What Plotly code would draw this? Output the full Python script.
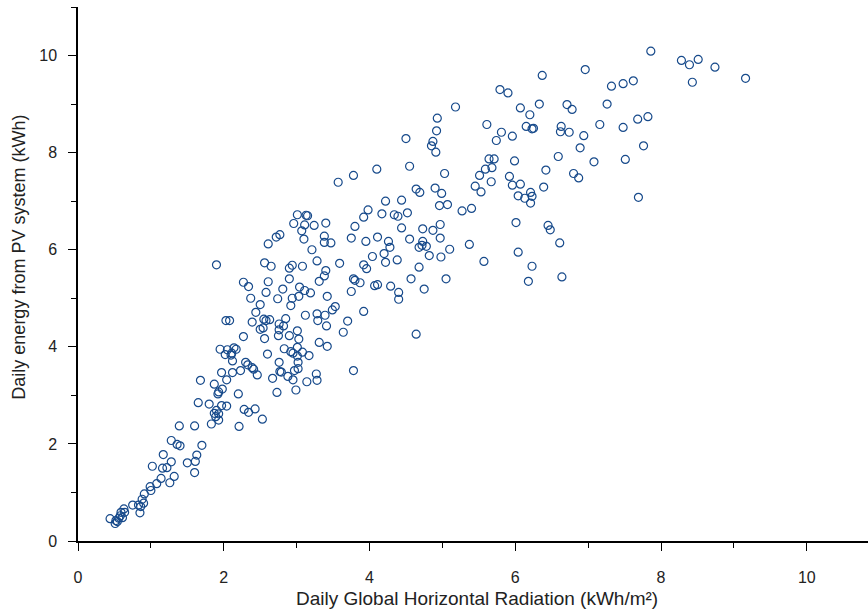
import plotly.graph_objects as go

# Daily global horizontal radiation (kWh/m²) vs. daily PV energy (kWh)
radiation = [
    # low-radiation days
    1.95, 2.05, 2.14, 2.17, 2.11, 2.02, 2.10, 2.12, 2.30, 2.33, 2.39, 2.41, 2.46, 2.23, 2.12, 1.97,
    2.04, 1.68, 1.87, 1.98, 1.93, 1.92, 2.20, 1.65, 1.80, 1.97, 2.04, 1.90, 1.87, 1.93, 1.89, 1.93,
    1.83, 2.28, 2.34, 2.43, 2.53, 2.21, 1.39, 1.60, 1.28, 1.36, 1.40, 1.70, 1.17, 1.63, 1.28, 1.50,
    1.61, 1.02, 1.16, 1.22, 1.32, 1.14, 1.26, 1.60, 0.99, 1.00, 1.08, 0.91, 0.88, 0.90, 0.86, 0.83,
    0.75, 0.85, 0.63, 0.64, 0.59, 0.58, 0.61, 0.56, 0.52, 0.51, 0.44, 0.54,
    # 2-3.5 kWh/m²
    3.01, 3.13, 3.15, 2.96, 3.11, 3.24, 3.40, 3.07, 3.10, 3.38, 3.38, 2.61, 2.72, 2.77, 3.21, 1.90,
    2.56, 2.65, 2.90, 2.94, 3.08, 3.28, 3.40, 3.38, 3.31, 2.27, 2.34, 2.61, 2.90, 2.81, 3.04, 3.11,
    3.19, 3.42, 2.37, 2.58, 2.74, 2.94, 3.03, 2.50, 2.92, 2.44, 3.12, 3.28, 3.39, 2.03, 2.08, 2.39,
    2.55, 2.58, 2.63, 2.85, 2.76, 3.29, 3.41, 2.50, 2.54, 2.82, 2.76, 3.01, 2.27, 2.56, 2.75, 2.90,
    3.03, 3.31,
    3.42, 2.60, 2.83, 2.92, 2.95, 3.01, 3.08, 3.01, 3.17, 2.76, 3.02, 2.77, 2.79, 2.67, 2.88, 2.95,
    2.97, 3.02, 3.27, 3.28, 3.14, 3.78, 2.99, 2.73,
    # 3.5-5 kWh/m²
    3.57, 4.22, 4.44, 3.98, 3.92, 4.17, 4.34, 4.39, 4.44, 3.80, 3.47, 3.75, 3.95, 4.11, 4.26, 4.28,
    4.20, 4.38, 4.22, 4.04, 3.59, 3.92, 3.96, 3.78, 3.80, 3.87, 3.75, 4.07, 4.11, 4.29, 4.40, 4.40,
    3.53, 3.49, 3.92, 3.70, 3.64,
    5.18, 4.93, 4.92, 4.50, 4.87, 4.85, 4.91, 4.10, 4.55, 3.78, 5.03,
    4.90, 4.64, 4.69, 4.99, 4.96, 5.07, 4.52, 4.73, 4.97, 4.87, 4.55, 4.73, 4.72, 4.78, 4.68, 4.97,
    5.10,
    4.82, 4.98, 4.68, 4.57, 5.05, 4.75, 4.64, 5.57, 6.04, 6.23, 6.18,
    # 5-7 kWh/m²
    5.79, 5.90, 5.61, 5.81, 5.96, 5.74, 5.64, 5.71, 5.99, 5.59, 5.68, 5.51, 5.67, 5.45, 5.53, 5.92,
    5.96, 6.04, 5.27, 5.40, 6.01, 5.37,
    6.37, 6.96, 6.33, 6.71, 6.78, 6.07, 6.20, 6.15, 6.23, 6.25, 6.63, 6.62, 6.74, 6.94, 7.16, 6.89,
    6.59, 7.08, 6.42, 6.07, 6.39, 6.80, 6.87, 6.13, 6.21, 6.23, 6.21, 6.45, 6.48, 6.61,
    # high-radiation days
    7.86, 8.28, 8.39, 8.51, 8.74, 9.16, 8.43, 7.62, 7.48, 7.32, 7.26, 7.48, 7.68, 7.82, 7.76, 7.51,
    7.69,
    6.64,
]

energy = [
    3.95, 3.94, 3.98, 3.95, 3.87, 3.84, 3.83, 3.71, 3.68, 3.63, 3.57, 3.54, 3.42, 3.51, 3.47, 3.47,
    3.32, 3.31, 3.23, 3.13, 3.07, 3.03, 3.03, 2.85, 2.82, 2.79, 2.78, 2.69, 2.63, 2.62, 2.56, 2.49,
    2.41, 2.71, 2.65, 2.72, 2.51, 2.36, 2.37, 2.37, 2.07, 1.99, 1.96, 1.97, 1.78, 1.77, 1.63, 1.61,
    1.64, 1.54, 1.50, 1.51, 1.33, 1.29, 1.20, 1.41, 1.12, 1.04, 1.18, 0.97, 0.86, 0.78, 0.71, 0.74,
    0.74, 0.58, 0.66, 0.59, 0.59, 0.52, 0.48, 0.47, 0.42, 0.36, 0.46, 0.40,
    6.72, 6.71, 6.70, 6.54, 6.51, 6.50, 6.55, 6.39, 6.22, 6.28, 6.15, 6.12, 6.26, 6.31, 6.00, 5.69,
    5.73, 5.66, 5.62, 5.68, 5.66, 5.77, 5.57, 5.46, 5.35, 5.33, 5.24, 5.34, 5.40, 5.19, 5.23, 5.16,
    5.11, 5.04, 5.00, 5.12, 4.99, 5.00, 5.04, 4.87, 4.85, 4.71, 4.65, 4.68, 4.65, 4.54, 4.54, 4.51,
    4.57, 4.54, 4.56, 4.58, 4.47, 4.54, 4.43, 4.36, 4.39, 4.43, 4.35, 4.33, 4.21, 4.17, 4.23, 4.23,
    4.16, 4.09,
    4.01, 3.85, 3.96, 3.90, 3.87, 3.99, 3.89, 3.81, 3.82, 3.68, 3.68, 3.49, 3.48, 3.35, 3.39, 3.32,
    3.51, 3.55, 3.44, 3.31, 3.28, 3.51, 3.11, 3.06,
    7.39, 7.00, 7.02, 6.82, 6.67, 6.74, 6.72, 6.69, 6.45, 6.48, 6.14, 6.24, 6.17, 6.26, 6.17, 6.05,
    5.92, 5.79, 5.74, 5.86, 5.72, 5.69, 5.61, 5.40, 5.37, 5.32, 5.14, 5.26, 5.28, 5.25, 5.12, 4.98,
    4.83, 4.76, 4.73, 4.53, 4.30,
    8.94, 8.71, 8.45, 8.29, 8.23, 8.14, 8.01, 7.66, 7.72, 7.53, 7.57,
    7.27, 7.25, 7.18, 7.16, 6.91, 6.93, 6.76, 6.43, 6.52, 6.40, 6.22, 6.17, 6.09, 6.07, 6.05, 6.24,
    6.01,
    5.88, 5.85, 5.64, 5.40, 5.40, 5.19, 4.26, 5.76, 5.95, 5.66, 5.35,
    9.30, 9.23, 8.58, 8.42, 8.34, 8.25, 7.87, 7.87, 7.83, 7.66, 7.69, 7.53, 7.40, 7.31, 7.19, 7.51,
    7.33, 7.11, 6.80, 6.85, 6.56, 6.11,
    9.59, 9.71, 9.00, 8.99, 8.89, 8.92, 8.78, 8.54, 8.49, 8.50, 8.54, 8.43, 8.42, 8.35, 8.58, 8.10,
    7.92, 7.81, 7.64, 7.35, 7.29, 7.57, 7.48, 7.06, 7.18, 7.10, 6.96, 6.50, 6.41, 6.14,
    10.09, 9.90, 9.81, 9.92, 9.76, 9.53, 9.45, 9.48, 9.42, 9.37, 9.00, 8.52, 8.69, 8.74, 8.14, 7.86,
    7.08,
    5.44,
]

x_ticks = [0, 2, 4, 6, 8, 10]
y_ticks = [0, 2, 4, 6, 8, 10]

x_title = "Daily Global Horizontal Radiation (kWh/m²)"
y_title = "Daily energy from PV system (kWh)"

marker_color = "#174a8b"
font_family = "Liberation Sans, Arial, sans-serif"

fig = go.Figure(
    go.Scatter(
        x=radiation,
        y=energy,
        mode="markers",
        marker=dict(symbol="circle-open", size=8, color=marker_color,
                    line=dict(width=1.2, color=marker_color)),
        hoverinfo="x+y",
    )
)

axis_common = dict(
    showline=True,
    linecolor="#000000",
    linewidth=1.5,
    showgrid=False,
    zeroline=False,
    ticks="outside",
    ticklen=8,
    tickwidth=1,
    tickcolor="#000000",
    tickfont=dict(family=font_family, size=16, color="#222222"),
    minor=dict(ticks="outside", ticklen=5, tickwidth=1, tickcolor="#000000", dtick=1),
)

fig.update_xaxes(range=[0, 10.84], tickvals=x_ticks, ticklabelstandoff=13, **axis_common)
fig.update_yaxes(range=[0, 11.0], tickvals=y_ticks, ticklabelstandoff=8, **axis_common)

fig.add_annotation(text=x_title, xref="paper", yref="paper", x=0.5048, y=-0.107,
                   showarrow=False, xanchor="center", yanchor="middle",
                   font=dict(family=font_family, size=19, color="#222222"))
fig.add_annotation(text=y_title, xref="paper", yref="paper", x=-0.075, y=0.532,
                   showarrow=False, xanchor="center", yanchor="middle", textangle=-90,
                   font=dict(family=font_family, size=18, color="#222222"))

fig.update_layout(
    width=868,
    height=611,
    margin=dict(l=78, r=0, t=7, b=70),
    paper_bgcolor="#ffffff",
    plot_bgcolor="#ffffff",
    showlegend=False,
)

fig.write_html("out.html")
